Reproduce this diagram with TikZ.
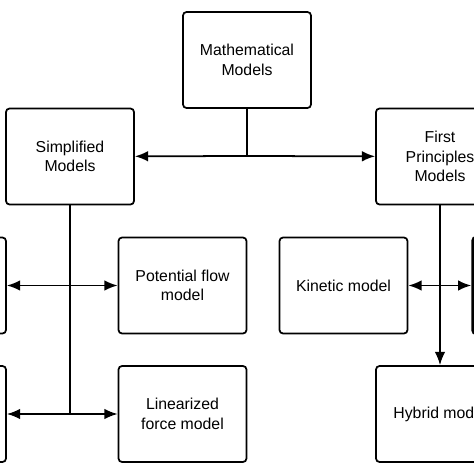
\documentclass[tikz,border=0pt]{standalone}
\usepackage{fontspec}
\setmainfont{Liberation Sans}
\usetikzlibrary{arrows.meta}

\begin{document}
\begin{tikzpicture}[x=0.02cm,y=-0.02cm,
  >={Latex[length=7.5pt,width=6pt]},
  box/.style={draw,line width=1pt,rounded corners=2pt,minimum width=2.56cm,minimum height=1.92cm,align=center,font=\fontsize{9}{11}\selectfont},
  link/.style={line width=1pt}]
\useasboundingbox (0,0) rectangle (474,474);
\clip (0,0) rectangle (474,474);
% boxes
\node[box] (math) at (247,60) {Mathematical\\Models};
\node[box] (simp) at (70,156.5) {Simplified\\Models};
\node[box] (fp) at (440,156.5) {First\\Principles\\Models};
\node[box] (leftA) at (-58,285.5) {};
\node[box] (pot) at (182.5,285.5) {Potential flow\\model};
\node[box] (kin) at (343.5,285.5) {Kinetic model};
\node[box,line width=2pt] (rightA) at (537,285.5) {};
\node[box] (leftB) at (-58,414) {};
\node[box] (lin) at (182.5,414) {Linearized\\force model};
\node[box] (hyb) at (440,414) {Hybrid model};
% junctions
\coordinate (jm) at (247,156);
\coordinate (js1) at (70,285.5);
\coordinate (js2) at (70,414);
\coordinate (jf) at (440,285.5);
% connectors
\draw[link] (math) -- (jm);
\draw[link,->] (jm) -- (simp);
\draw[link,->] (jm) -- (fp);
\draw[link] (simp) -- (js2);
\draw[link,->] (js1) -- (leftA);
\draw[link,->] (js1) -- (pot);
\draw[link,->] (js2) -- (leftB);
\draw[link,->] (js2) -- (lin);
\draw[link,->] (fp) -- (hyb);
\draw[link,->] (jf) -- (kin);
\draw[link,->] (jf) -- (rightA);
\end{tikzpicture}
\end{document}
